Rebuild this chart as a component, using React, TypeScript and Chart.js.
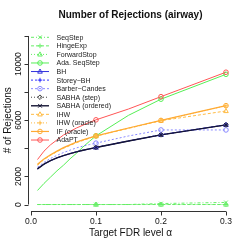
import React, { useEffect, useRef } from 'react';
import { Chart, registerables } from 'chart.js';

Chart.register(...registerables);

// ---------- data ----------
const fdrLevels = [0.01, 0.02, 0.03, 0.04, 0.05, 0.06, 0.07, 0.08, 0.09, 0.1, 0.15, 0.2, 0.3];
const markerLevels = [0.1, 0.2, 0.3];

const seqStep = [0, 0, 0, 0, 0, 0, 0, 0, 0, 0, 0, 70, 150];
const hingeExp = [0, 0, 0, 0, 0, 0, 0, 0, 0, 0, 0, 0, 0];
const forwardStop = [0, 0, 0, 0, 0, 0, 0, 0, 0, 0, 0, 0, 0];
const adaSeqStep = [1000, 1500, 1950, 2400, 2800, 3250, 3650, 4100, 4500, 4890, 6350, 7500, 9270];
const bh = [2540, 2870, 3120, 3320, 3480, 3620, 3750, 3860, 3960, 4060, 4520, 4960, 5670];
const storeyBh = [2550, 2880, 3130, 3330, 3490, 3630, 3760, 3870, 3970, 4070, 4530, 4970, 5680];
const barberCandes = [2660, 3000, 3280, 3500, 3700, 3870, 4030, 4160, 4270, 4370, 4880, 5310, 5310];
const sabhaStep = [2540, 2870, 3120, 3320, 3480, 3620, 3750, 3860, 3960, 4060, 4520, 4960, 5670];
const sabhaOrdered = [2540, 2870, 3120, 3320, 3480, 3620, 3750, 3860, 3960, 4060, 4520, 4960, 5670];
const ihw = [2800, 3200, 3500, 3760, 4000, 4200, 4400, 4560, 4720, 4870, 5420, 5970, 6660];
const ihwOracle = [2850, 3230, 3530, 3780, 4030, 4230, 4430, 4590, 4740, 4880, 5440, 5980, 7030];
const ifOracle = [2870, 3250, 3550, 3800, 4050, 4250, 4450, 4600, 4750, 4890, 5450, 5990, 7040];
const adaPT = [3200, 3800, 4250, 4600, 4950, 5200, 5450, 5650, 5850, 6030, 6800, 7680, 9420];

const xTicks = [0, 0.1, 0.2, 0.3];
const xTickLabels = ['0.0', '0.1', '0.2', '0.3'];
const yTicks = [0, 2000, 4000, 6000, 8000, 10000, 12000];
const yTickLabels = ['0', '2000', '', '6000', '', '10000', ''];

const chartTitle = 'Number of Rejections (airway)';
const xTitle = 'Target FDR level \u03b1';
const yTitle = '# of Rejections';

type Method = {
  label: string;
  values: number[];
  color: string;
  dash: number[];
  marker: string;
  filled: boolean;
  width: number;
};

const methods: Method[] = [
  { label: 'SeqStep', values: seqStep, color: '#66ee66', dash: [3, 2, 1, 2], marker: 'crossRot', filled: false, width: 1 },
  { label: 'HingeExp', values: hingeExp, color: '#66ee66', dash: [3, 2], marker: 'cross', filled: false, width: 1 },
  { label: 'ForwardStop', values: forwardStop, color: '#66ee66', dash: [1, 2], marker: 'triangle', filled: false, width: 1 },
  { label: 'Ada. SeqStep', values: adaSeqStep, color: '#55ee55', dash: [], marker: 'circle', filled: false, width: 1 },
  { label: 'BH', values: bh, color: '#3333dd', dash: [], marker: 'triangle', filled: false, width: 1 },
  { label: 'Storey\u2212BH', values: storeyBh, color: '#3333ff', dash: [2, 2], marker: 'cross', filled: false, width: 1 },
  { label: 'Barber\u2212Candes', values: barberCandes, color: '#8888ff', dash: [2, 2], marker: 'circle', filled: false, width: 1 },
  { label: 'SABHA (step)', values: sabhaStep, color: '#444444', dash: [1, 2], marker: 'rectRot', filled: false, width: 1 },
  { label: 'SABHA (ordered)', values: sabhaOrdered, color: '#151535', dash: [], marker: 'crossRot', filled: true, width: 1.4 },
  { label: 'IHW', values: ihw, color: '#ffbb44', dash: [3, 2], marker: 'triangle', filled: false, width: 1 },
  { label: 'IHW (oracle)', values: ihwOracle, color: '#ffbb44', dash: [1, 2], marker: 'cross', filled: false, width: 1 },
  { label: 'IF (oracle)', values: ifOracle, color: '#ffaa33', dash: [], marker: 'circle', filled: false, width: 1.2 },
  { label: 'AdaPT', values: adaPT, color: '#ff5555', dash: [], marker: 'circle', filled: false, width: 1 },
];

const FONT = "'Liberation Sans', Arial, Helvetica, sans-serif";

function drawMarker(ctx: CanvasRenderingContext2D, style: string, x: number, y: number, r: number, color: string, filled: boolean) {
  ctx.save();
  ctx.setLineDash([]);
  ctx.strokeStyle = color;
  ctx.fillStyle = color;
  ctx.lineWidth = 1;
  ctx.beginPath();
  if (style === 'circle') {
    ctx.arc(x, y, r, 0, Math.PI * 2);
  } else if (style === 'triangle') {
    ctx.moveTo(x, y - r * 1.1);
    ctx.lineTo(x + r, y + r * 0.7);
    ctx.lineTo(x - r, y + r * 0.7);
    ctx.closePath();
  } else if (style === 'cross') {
    ctx.moveTo(x - r, y); ctx.lineTo(x + r, y);
    ctx.moveTo(x, y - r); ctx.lineTo(x, y + r);
  } else if (style === 'crossRot') {
    ctx.moveTo(x - r * 0.8, y - r * 0.8); ctx.lineTo(x + r * 0.8, y + r * 0.8);
    ctx.moveTo(x - r * 0.8, y + r * 0.8); ctx.lineTo(x + r * 0.8, y - r * 0.8);
  } else if (style === 'rectRot') {
    ctx.moveTo(x, y - r); ctx.lineTo(x + r, y); ctx.lineTo(x, y + r); ctx.lineTo(x - r, y);
    ctx.closePath();
  }
  if (filled && style !== 'cross' && style !== 'crossRot') ctx.fill();
  ctx.stroke();
  ctx.restore();
}

const rDecorPlugin = {
  id: 'rDecor',
  afterDatasetsDraw(chart: any) {
    const { ctx, chartArea, scales } = chart;
    const xs = scales.x;
    const ys = scales.y;
    ctx.save();
    ctx.strokeStyle = '#333333';
    ctx.fillStyle = '#111111';
    ctx.lineWidth = 1;
    ctx.setLineDash([]);

    // markers on top of lines
    chart.data.datasets.forEach((ds: any, i: number) => {
      const m = methods[i];
      ds.data.forEach((p: any) => {
        if (markerLevels.includes(p.x)) {
          drawMarker(ctx, m.marker, xs.getPixelForValue(p.x), ys.getPixelForValue(p.y), 2.3, m.color, m.filled);
        }
      });
    });

    // x axis
    const yb = Math.round(chartArea.bottom) + 0.5;
    const x0 = xs.getPixelForValue(xTicks[0]);
    const x1 = xs.getPixelForValue(xTicks[xTicks.length - 1]);
    ctx.beginPath();
    ctx.moveTo(x0, yb); ctx.lineTo(x1, yb);
    xTicks.forEach((v) => {
      const px = Math.round(xs.getPixelForValue(v)) + 0.5;
      ctx.moveTo(px, yb); ctx.lineTo(px, yb + 4);
    });
    ctx.stroke();
    ctx.font = `8.5px ${FONT}`;
    ctx.textAlign = 'center';
    ctx.textBaseline = 'middle';
    xTicks.forEach((v, i) => {
      ctx.fillText(xTickLabels[i], xs.getPixelForValue(v), yb + 10);
    });

    // y axis
    const xl = Math.round(chartArea.left) + 0.5;
    const yy0 = ys.getPixelForValue(yTicks[0]);
    const yy1 = ys.getPixelForValue(yTicks[yTicks.length - 1]);
    ctx.beginPath();
    ctx.moveTo(xl, yy0); ctx.lineTo(xl, yy1);
    yTicks.forEach((v) => {
      const py = Math.round(ys.getPixelForValue(v)) + 0.5;
      ctx.moveTo(xl, py); ctx.lineTo(xl - 4, py);
    });
    ctx.stroke();
    yTicks.forEach((v, i) => {
      if (!yTickLabels[i]) return;
      ctx.save();
      ctx.translate(xl - 10, ys.getPixelForValue(v));
      ctx.rotate(-Math.PI / 2);
      ctx.fillText(yTickLabels[i], 0, 0);
      ctx.restore();
    });

    // titles
    ctx.font = `10px ${FONT}`;
    ctx.fillText(xTitle, (chartArea.left + chartArea.right) / 2, 233);
    ctx.save();
    ctx.translate(8, (chartArea.top + chartArea.bottom) / 2);
    ctx.rotate(-Math.PI / 2);
    ctx.fillText(yTitle, 0, 0);
    ctx.restore();
    ctx.font = `bold 10px ${FONT}`;
    ctx.fillText(chartTitle, (chartArea.left + chartArea.right) / 2, 15);

    // legend
    ctx.font = `7px ${FONT}`;
    ctx.textAlign = 'left';
    methods.forEach((m, i) => {
      const y = 37.3 + i * 8.56;
      ctx.save();
      ctx.strokeStyle = m.color;
      ctx.lineWidth = m.width;
      ctx.setLineDash(m.dash);
      ctx.beginPath();
      ctx.moveTo(31, y); ctx.lineTo(49, y);
      ctx.stroke();
      ctx.restore();
      drawMarker(ctx, m.marker, 40, y, 2.3, m.color, m.filled);
      ctx.fillStyle = '#222222';
      ctx.fillText(m.label, 56.5, y + 0.5);
    });
    ctx.restore();
  },
};

export default function App() {
  const canvasRef = useRef<HTMLCanvasElement | null>(null);

  useEffect(() => {
    if (!canvasRef.current) return;
    const n = methods.length;
    const chart = new Chart(canvasRef.current, {
      type: 'line',
      data: {
        datasets: methods.map((m, i) => ({
          label: m.label,
          data: fdrLevels.map((x, j) => ({ x, y: m.values[j] })),
          borderColor: m.color,
          borderWidth: m.width,
          borderDash: m.dash,
          pointRadius: 0,
          fill: false,
          tension: 0,
          order: n - 1 - i,
        })),
      },
      options: {
        animation: false,
        responsive: false,
        events: [],
        layout: { padding: { left: 28, top: 30, right: 16, bottom: 38.5 } },
        scales: {
          x: { type: 'linear', min: -0.0046, max: 0.3108, display: false },
          y: { type: 'linear', min: -426, max: 12426, display: false },
        },
        plugins: {
          legend: { display: false },
          tooltip: { enabled: false },
          title: { display: false },
        },
      },
      plugins: [rDecorPlugin],
    });
    return () => chart.destroy();
  }, []);

  return (
    <canvas
      ref={canvasRef}
      width={249}
      height={249}
      style={{ position: 'fixed', left: 0, top: 0, width: 249, height: 249, background: '#ffffff' }}
    />
  );
}
